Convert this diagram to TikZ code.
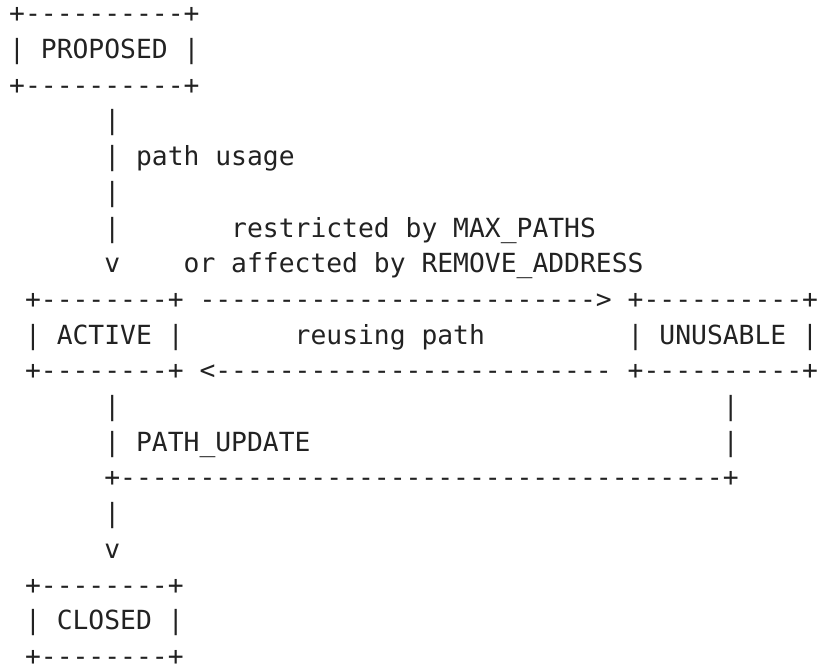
\documentclass[tikz,border=0pt]{standalone}
\usepackage{fontspec}
\setmonofont{DejaVu Sans Mono}
\definecolor{ink}{HTML}{222222}
\tikzset{
  txt/.style={anchor=base west, inner sep=0pt, outer sep=0pt,
    font=\ttfamily\fontsize{26.34pt}{30pt}\selectfont, text=ink}
}
\begin{document}
\begin{tikzpicture}[x=1pt,y=1pt]
\useasboundingbox (0,0) rectangle (817,-666);
\begin{scope}[shift={(9.2,-22.8)}, x=15.86pt, y=-35.7pt]
% PROPOSED box
\node[txt] (r0) at (0,0) {+----------+};
\node[txt] (proposed) at (0,1) {| PROPOSED |};
\node[txt] (r2) at (0,2) {+----------+};
% path usage
\node[txt] (r3) at (6,3) {|};
\node[txt] (r4a) at (6,4) {|};
\node[txt] (pathusage) at (8,4) {path usage};
\node[txt] (r5) at (6,5) {|};
\node[txt] (r6a) at (6,6) {|};
\node[txt] (restricted) at (14,6) {restricted by MAX\_PATHS};
\node[txt] (r7a) at (6,7) {v};
\node[txt] (affected) at (11,7) {or affected by REMOVE\_ADDRESS};
% ACTIVE / UNUSABLE row
\node[txt] (r8a) at (1,8) {+--------+};
\node[txt] (fwd) at (12,8) {------------------------->};
\node[txt] (r8c) at (39,8) {+----------+};
\node[txt] (active) at (1,9) {| ACTIVE |};
\node[txt] (reusing) at (18,9) {reusing path};
\node[txt] (unusable) at (39,9) {| UNUSABLE |};
\node[txt] (r10a) at (1,10) {+--------+};
\node[txt] (back) at (12,10) {<-------------------------};
\node[txt] (r10c) at (39,10) {+----------+};
% PATH_UPDATE
\node[txt] (r11a) at (6,11) {|};
\node[txt] (r11b) at (45,11) {|};
\node[txt] (r12a) at (6,12) {|};
\node[txt] (pathupdate) at (8,12) {PATH\_UPDATE};
\node[txt] (r12c) at (45,12) {|};
\node[txt] (r13) at (6,13) {+--------------------------------------+};
\node[txt] (r14) at (6,14) {|};
\node[txt] (r15) at (6,15) {v};
% CLOSED box
\node[txt] (r16) at (1,16) {+--------+};
\node[txt] (closed) at (1,17) {| CLOSED |};
\node[txt] (r18) at (1,18) {+--------+};
\end{scope}
\end{tikzpicture}
\end{document}
